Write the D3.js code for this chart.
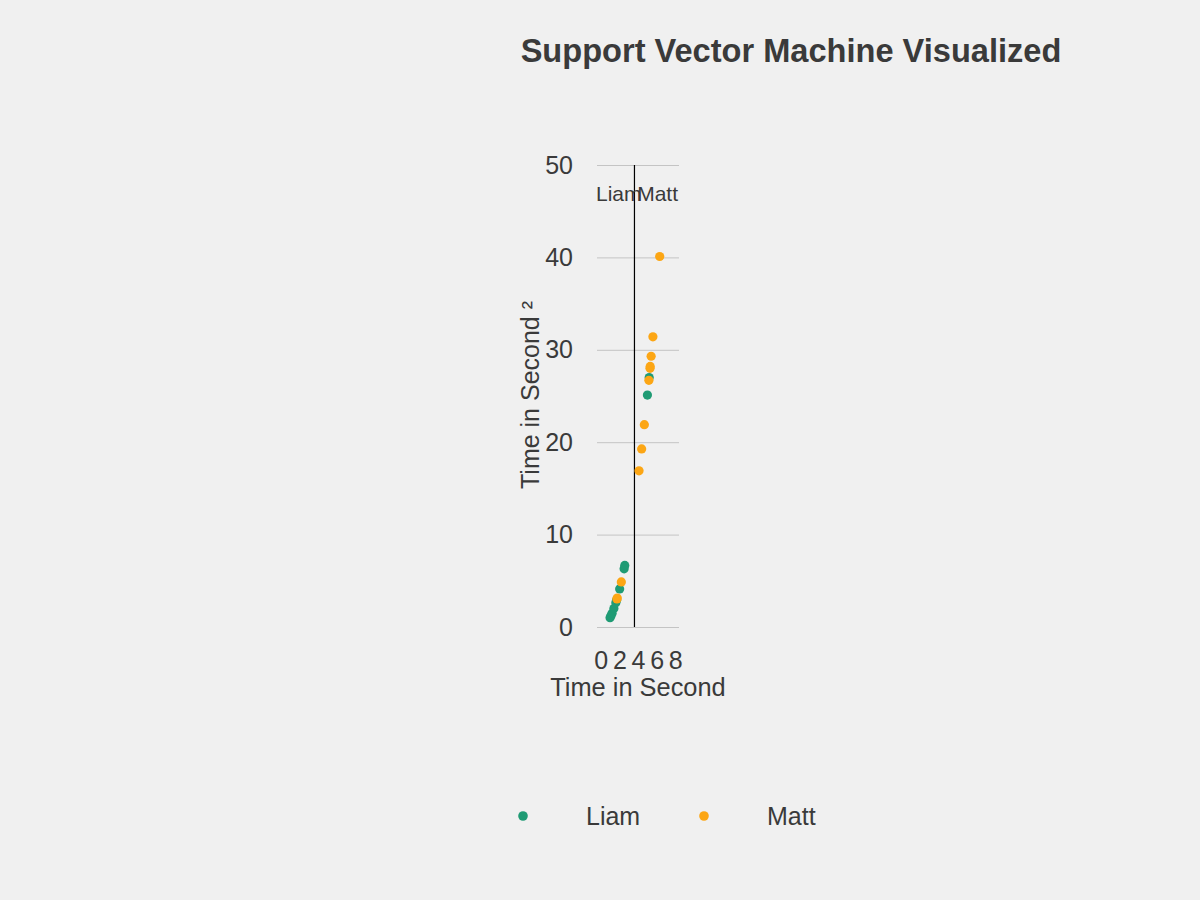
<!DOCTYPE html>
<html>
<head>
<meta charset="utf-8">
<script src="https://cdn.jsdelivr.net/npm/d3@7"></script>
<style>
  html, body { margin: 0; padding: 0; background: #f0f0f0; }
  svg { display: block; font-family: "Liberation Sans", Arial, Helvetica, sans-serif; }
</style>
</head>
<body>
<svg id="chart" width="1200" height="900"></svg>
<script>
// ---- data ----
const seriesNames = ["Liam", "Matt"];
const seriesColors = ["#1f9b74", "#fca614"];
const liamX = [1.00, 1.10, 1.22, 1.41, 1.62, 1.70, 2.03, 2.51, 2.58, 5.01, 5.20];
const liamY = [1.00, 1.21, 1.49, 1.99, 2.62, 2.89, 4.12, 6.30, 6.66, 25.1, 27.0];
const mattX = [1.74, 1.77, 2.21, 4.11, 4.39, 4.68, 5.17, 5.29, 5.31, 5.41, 5.60, 6.33];
const mattY = [3.03, 3.13, 4.88, 16.9, 19.27, 21.9, 26.7, 28.0, 28.2, 29.3, 31.4, 40.1];
const xTicks = [0, 2, 4, 6, 8];
const yTicks = [0, 10, 20, 30, 40, 50];
const boundaryX = 3.62;
const titleText = "Support Vector Machine Visualized";
const xLabel = "Time in Second";
const yLabel = "Time in Second \u00B2";

// ---- layout ----
const svg = d3.select("#chart");
const textColor = "#3a3a3a";
const plot = { left: 597, right: 679, top: 165, bottom: 627 };

const x = d3.scaleLinear().domain([-0.4, 8.4]).range([plot.left, plot.right]);
const y = d3.scaleLinear().domain([0, 50]).range([plot.bottom, plot.top]);

// title
svg.append("text")
  .attr("x", 791).attr("y", 62)
  .attr("text-anchor", "middle")
  .attr("font-size", 32.6).attr("font-weight", "bold")
  .attr("fill", textColor)
  .text(titleText);

// y axis with gridlines
const yAxis = d3.axisLeft(y).tickValues(yTicks).tickSize(-(plot.right - plot.left)).tickPadding(24);
const gy = svg.append("g").attr("transform", `translate(${plot.left},0)`).call(yAxis);
gy.select(".domain").remove();
gy.selectAll(".tick line").attr("stroke", "#c4c4c4").attr("stroke-width", 1);
gy.selectAll(".tick text").attr("font-size", 25).attr("fill", textColor)
  .attr("font-family", "Liberation Sans, Arial, sans-serif");

// x axis
const xAxis = d3.axisBottom(x).tickValues(xTicks).tickSize(0).tickPadding(24);
const gx = svg.append("g").attr("transform", `translate(0,${plot.bottom})`).call(xAxis);
gx.select(".domain").remove();
gx.selectAll(".tick text").attr("font-size", 25).attr("fill", textColor)
  .attr("font-family", "Liberation Sans, Arial, sans-serif");

// axis titles
svg.append("text")
  .attr("x", 638).attr("y", 696)
  .attr("text-anchor", "middle")
  .attr("font-size", 25.4).attr("fill", textColor)
  .text(xLabel);

svg.append("text")
  .attr("transform", `translate(539,${(plot.top + plot.bottom) / 2 - 1}) rotate(-90)`)
  .attr("text-anchor", "middle")
  .attr("font-size", 25).attr("fill", textColor)
  .text(yLabel);

// separator line
svg.append("line")
  .attr("x1", x(boundaryX)).attr("x2", x(boundaryX))
  .attr("y1", y(50)).attr("y2", y(0))
  .attr("stroke", "#000").attr("stroke-width", 1.2);

// region labels
svg.append("text")
  .attr("x", plot.left - 1).attr("y", 201)
  .attr("text-anchor", "start")
  .attr("font-size", 21).attr("fill", textColor)
  .text(seriesNames[0]);
svg.append("text")
  .attr("x", plot.right - 1).attr("y", 201)
  .attr("text-anchor", "end")
  .attr("font-size", 21).attr("fill", textColor)
  .text(seriesNames[1]);

// points
const series = [
  { name: seriesNames[0], color: seriesColors[0], xs: liamX, ys: liamY },
  { name: seriesNames[1], color: seriesColors[1], xs: mattX, ys: mattY }
];
const pointsG = svg.append("g");
series.forEach(s => {
  pointsG.append("g").selectAll("circle")
    .data(s.xs.map((v, i) => ({ x: v, y: s.ys[i] })))
    .join("circle")
    .attr("cx", d => x(d.x))
    .attr("cy", d => y(d.y))
    .attr("r", 4.6)
    .attr("fill", s.color);
});

// legend
const legendX = [523, 704];
series.forEach((s, i) => {
  const g = svg.append("g").attr("transform", `translate(${legendX[i]},816)`);
  g.append("circle").attr("r", 4.8).attr("fill", s.color);
  g.append("text").attr("x", 63).attr("y", 0).attr("dy", "0.35em")
    .attr("font-size", 25).attr("fill", textColor).text(s.name);
});
</script>
</body>
</html>
